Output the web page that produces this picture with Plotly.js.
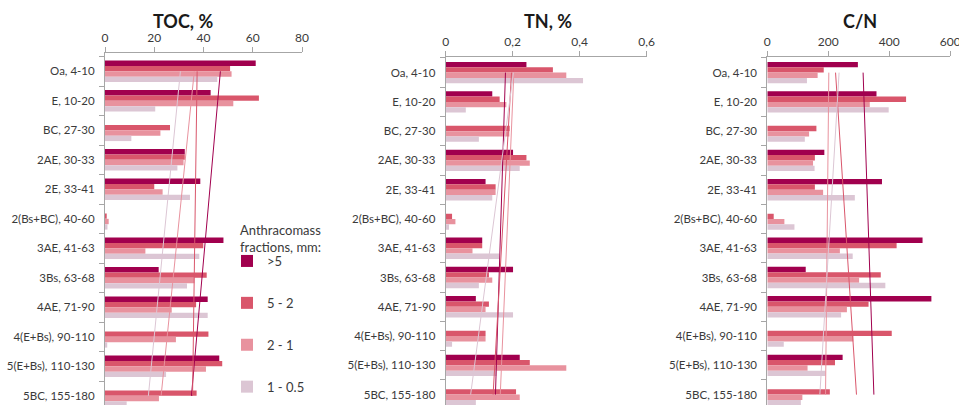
<!DOCTYPE html>
<html><head><meta charset="utf-8">
<script src="https://cdn.plot.ly/plotly-3.0.1.min.js"></script>
<style>html,body{margin:0;padding:0;background:#fff}#chart{width:959px;height:405px}</style>
</head><body><div id="chart"></div>
<script>
// ---- data ----
const categories = ['Oa, 4-10','E, 10-20','BC, 27-30','2AE, 30-33','2E, 33-41','2(Bs+BC), 40-60','3AE, 41-63','3Bs, 63-68','4AE, 71-90','4(E+Bs), 90-110','5(E+Bs), 110-130','5BC, 155-180'];
const fractions = ['>5','5 - 2','2 - 1','1 - 0.5'];
const panelTitles = ['TOC, %','TN, %','C/N'];
const legendTitle = 'Anthracomass<br>fractions, mm:';

const tocGt5   = [61.2,42.9,null,32.4,38.7,null,48.1,21.8,41.7,null,46.4,null];
const toc5to2  = [50.8,62.5,26.4,32.4,20.0,0.7,39.9,41.3,37.0,42.0,47.6,37.2];
const toc2to1  = [51.4,52.1,22.5,31.9,23.4,1.5,16.4,36.3,27.1,28.8,41.0,21.9];
const toc1to05 = [45.6,20.4,10.7,29.4,34.5,1.0,38.3,33.3,41.7,0.9,24.8,8.8];

const tnGt5   = [0.241,0.139,null,0.201,0.119,null,0.109,0.201,0.090,null,0.221,null];
const tn5to2  = [0.320,0.161,0.191,0.241,0.149,0.019,0.109,0.129,0.129,0.119,0.251,0.210];
const tn2to1  = [0.360,0.181,0.190,0.251,0.149,0.029,0.080,0.139,0.119,0.119,0.360,0.221];
const tn1to05 = [0.410,0.060,0.099,0.221,0.139,0.010,0.160,0.099,0.201,0.019,0.152,0.090];

const cnGt5   = [297,358,null,187,376,null,509,126,538,null,247,null];
const cn5to2  = [185,455,161,156,156,21,424,372,332,408,222,205];
const cn2to1  = [165,336,137,150,183,56,238,301,261,282,132,115];
const cn1to05 = [130,398,123,155,287,89,280,387,242,54,191,110];

const xTicks = {toc:[0,20,40,60,80], tn:[0,0.2,0.4,0.6], cn:[0,200,400,600]};

// ---- styling ----
const W = 959, H = 405, T = 53, PH = H - T;
const colors = ['#A1004E','#D9566B','#E8929E','#DCC6D4'];
const FONT = 'Lato, "Open Sans", sans-serif';
const axisGray = '#A6A6A6';
const textCol = '#3a3a3a';

const panels = [
  {series:[tocGt5,toc5to2,toc2to1,toc1to05], px:[105,302], ticks:xTicks.toc, top:53,   yr:[11.31,-0.62], tx:183},
  {series:[tnGt5,tn5to2,tn2to1,tn1to05],     px:[445.7,646.7], ticks:xTicks.tn, top:56.7, yr:[11.355,-0.544], tx:548},
  {series:[cnGt5,cn5to2,cn2to1,cn1to05],     px:[767.3,950.3], ticks:xTicks.cn, top:56.7, yr:[11.355,-0.544], tx:860}
];

// linear trendline (Excel-style: value vs category index, blanks ignored)
function trend(vals){
  const pts = vals.map((v,i)=>[i,v]).filter(p=>p[1]!==null);
  const n = pts.length;
  const mx = pts.reduce((s,p)=>s+p[0],0)/n, my = pts.reduce((s,p)=>s+p[1],0)/n;
  let sxy=0,sxx=0; pts.forEach(p=>{sxy+=(p[0]-mx)*(p[1]-my); sxx+=(p[0]-mx)*(p[0]-mx);});
  const b = sxy/sxx, a = my - b*mx;
  return [a, a+b*(vals.length-1)];
}

const traces = [];
const layout = {
  width: W, height: H,
  margin: {l:0, r:0, t:T, b:0, pad:0},
  paper_bgcolor:'#fff', plot_bgcolor:'rgba(0,0,0,0)',
  barmode:'group', bargap:0.27, bargroupgap:0,
  separators:', ',
  font:{family:FONT, size:12, color:textCol},
  showlegend:true,
  legend:{x:227/W, xanchor:'left', y:(H-246)/PH, yanchor:'top',
    font:{size:13, color:textCol}, traceorder:'grouped', tracegroupgap:22,
    bgcolor:'rgba(0,0,0,0)', itemwidth:30},
  annotations:[{text:legendTitle, xref:'paper', yref:'paper', x:238/W, y:(H-220)/PH,
    xanchor:'left', yanchor:'top', align:'left', showarrow:false,
    font:{size:13, color:textCol, family:FONT}}],
  hovermode:false
};

panels.forEach((p,k)=>{
  const sfx = k===0 ? '' : String(k+1);
  const xa = 'x'+sfx, ya = 'y'+sfx;
  p.series.forEach((vals,j)=>{
    traces.push({type:'bar', orientation:'h', x:vals, y:categories, name:fractions[j],
      xaxis:xa, yaxis:ya, marker:{color:colors[j], line:{width:0}},
      legendgroup:'g'+j, showlegend:k===0});
  });
  p.series.forEach((vals,j)=>{
    const ends = trend(vals);
    traces.push({type:'scatter', mode:'lines', x:ends, y:[categories[0], categories[categories.length-1]],
      xaxis:xa, yaxis:ya, line:{color:colors[j], width:1}, showlegend:false, hoverinfo:'skip'});
  });
  const yTopFrac = (H - p.top)/PH;
  layout['xaxis'+sfx] = {domain:[p.px[0]/W, p.px[1]/W], anchor:ya, side:'top',
    range:[p.ticks[0], p.ticks[p.ticks.length-1]], tickvals:p.ticks, ticklabeloverflow:'allow',
    showline:true, linecolor:axisGray, linewidth:1, ticks:'outside', ticklen:5, tickcolor:axisGray,
    showgrid:false, zeroline:false, tickfont:{size:12, color:textCol}, fixedrange:true};
  layout['yaxis'+sfx] = {domain:[0, yTopFrac], anchor:xa, type:'category',
    categoryorder:'array', categoryarray:categories, range:p.yr,
    showline:true, linecolor:axisGray, linewidth:1, ticks:'outside', tickson:'boundaries',
    ticklen:5, tickcolor:axisGray, showgrid:false, zeroline:false,
    tickfont:{size:11.5, color:textCol, family:FONT}, ticklabelstandoff:7, fixedrange:true};
  layout.annotations.push({text:'<b>'+panelTitles[k]+'</b>', xref:'paper', yref:'paper',
    x:p.tx/W, y:(H-20.5)/PH, xanchor:'center', yanchor:'middle', showarrow:false,
    font:{size:18, color:'#1a1a1a', family:FONT}});
});

Plotly.newPlot('chart', traces, layout, {staticPlot:true, displayModeBar:false});
</script></body></html>
